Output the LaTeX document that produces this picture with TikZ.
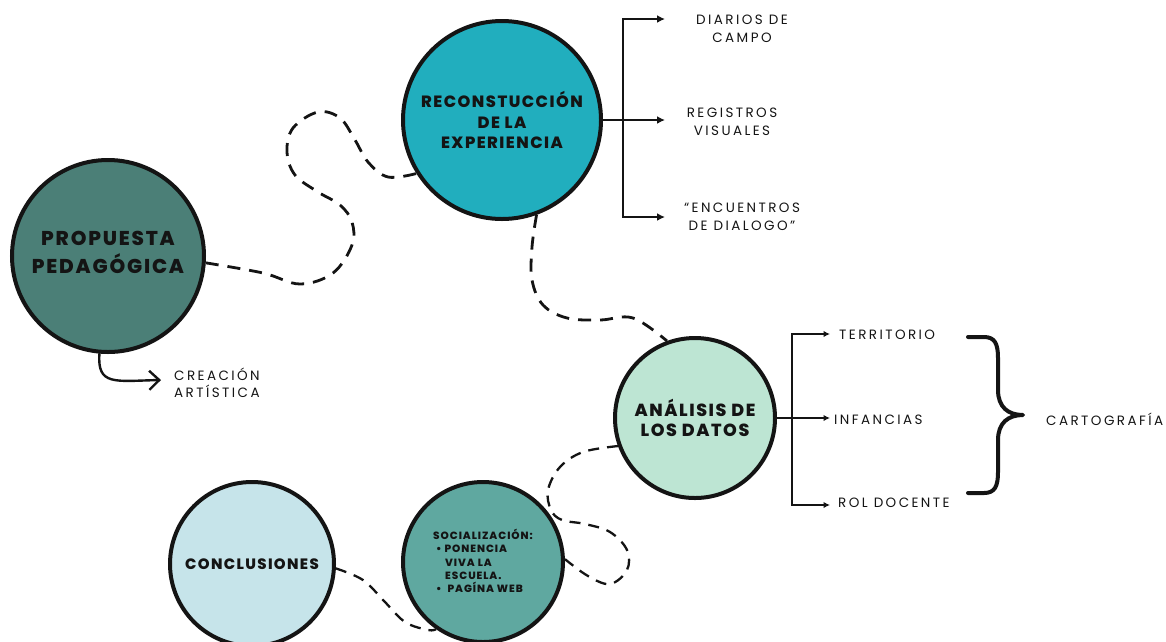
\documentclass[tikz,border=0pt]{standalone}
\usepackage{fontspec}
\usetikzlibrary{arrows.meta}
\setmainfont{Poppins}
\newfontfamily\headfont[LetterSpace=9]{Poppins ExtraBold}
\newfontfamily\tagfont[LetterSpace=18]{Poppins}
\definecolor{ink}{HTML}{141414}
\definecolor{cProp}{HTML}{4B7F77}
\definecolor{cRec}{HTML}{21AEBE}
\definecolor{cAna}{HTML}{BDE5D3}
\definecolor{cConc}{HTML}{C6E4EA}
\definecolor{cSoc}{HTML}{5FA8A0}
\begin{document}
\begin{tikzpicture}[x=1pt,y=-1pt,
  bub/.style={circle, draw=ink, line width=4pt, inner sep=0pt, align=center,
    text=ink, font=\headfont},
  tag/.style={inner sep=0pt, align=center, text=ink, font=\tagfont\fontsize{13.5}{17.5}\selectfont},
  loopdash/.style={draw=ink, line width=2.8pt, dash pattern=on 13pt off 9pt, line cap=butt},
  thindash/.style={draw=ink, line width=2.3pt, dash pattern=on 11pt off 8pt},
  branch/.style={draw=ink, line width=2pt, -{Latex[length=8pt,width=8pt]}},
  fork/.style={draw=ink, line width=1.8pt, -{Latex[length=6.5pt,width=6.5pt]}}]
\useasboundingbox (0,0) rectangle (1166,641);

% main bubbles
\node[bub, fill=cProp, minimum size=192pt] (prop) at (108,256) {};
\node[text=ink, align=center, font=\headfont\fontsize{20}{28}\selectfont] (propText) at (108,252) {PROPUESTA\\PEDAGÓGICA};
\node[bub, fill=cRec, minimum size=198pt, font=\headfont\fontsize{16.3}{20.5}\selectfont] (rec) at (502,120) {RECONSTUCCIÓN\\DE LA\\EXPERIENCIA};
\node[bub, fill=cAna, minimum size=160pt, font=\headfont\fontsize{17.5}{20}\selectfont] (ana) at (695,418) {ANÁLISIS DE\\LOS DATOS};
\node[bub, fill=cConc, minimum size=164pt, font=\headfont\fontsize{15}{18}\selectfont] (conc) at (252,564) {CONCLUSIONES};
\node[bub, fill=cSoc, minimum size=160pt] (soc) at (483,562) {};
\node[text=ink, align=left, inner sep=0pt, font=\headfont\fontsize{10.5}{13.3}\selectfont] (socText) at (483,561)
  {SOCIALIZACIÓN:\\
   \hspace*{3pt}\textbullet\ PONENCIA\\
   \hspace*{12pt}VIVA LA\\
   \hspace*{12pt}ESCUELA.\\
   \hspace*{3pt}\textbullet\ \ PAGÍNA WEB};

% outer labels
\node[tag] (diarios) at (742,29) {DIARIOS DE\\CAMPO};
\node[tag] (registros) at (732,122) {REGISTROS\\VISUALES};
\node[tag] (encuentros) at (742,217) {“ENCUENTROS\\DE DIALOGO”};
\node[tag, anchor=west] (terr) at (839,335) {TERRITORIO};
\node[tag, anchor=west] (inf) at (834,420) {INFANCIAS};
\node[tag, anchor=west] (rol) at (838,503) {ROL DOCENTE};
\node[tag, anchor=west] (carto) at (1046,419) {CARTOGRAFÍA};
\node[tag, anchor=west, align=left] (crea) at (174,383) {CREACIÓN\\ARTÍSTICA};

% branch points and arrow ends
\coordinate (rb) at (623,120);
\coordinate (r1) at (665,19);
\coordinate (r2) at (665,120);
\coordinate (r3) at (665,217);
\coordinate (ab) at (792,418);
\coordinate (a1) at (830,334);
\coordinate (a2) at (830,418);
\coordinate (a3) at (830,505);
\coordinate (creTip) at (161,380);

% fork from the reconstruction bubble
\draw[branch] (rec.east) -- (r2);
\draw[branch] (rb) |- (r1);
\draw[branch] (rb) |- (r3);

% fork from the analysis bubble
\draw[fork] (ana.east) -- (a2);
\draw[fork] (ab) |- (a1);
\draw[fork] (ab) |- (a3);

% brace gathering the three categories
\draw[ink, line width=4pt, line cap=round, line join=round]
  (968,337) -- (984,337) .. controls (995,337) and (998,344) .. (998,358)
  -- (998,390) .. controls (998,407) and (1008,415) .. (1023,415)
  .. controls (1008,415) and (998,423) .. (998,440)
  -- (998,472) .. controls (998,486) and (995,493) .. (984,493) -- (968,493);

% curved arrow to the artistic creation
\draw[ink, line width=2.4pt, line cap=round, -{Straight Barb[length=10pt,width=19pt]}] (prop.265) .. controls (97,386) and (115,381) .. (creTip);

% dashed paths between bubbles
\draw[loopdash] plot[smooth, tension=0.6] coordinates {(prop.-4) (263,273) (300,284) (333,273) (352,245) (352,222) (340,205) (318,192) (295,175) (287,152) (293,128) (318,112) (340,118) (355,140) (368,162) (388,177) (rec.212)};
\draw[loopdash] plot[smooth, tension=0.6] coordinates {(rec.-70) (532,247) (532,280) (543,305) (567,318) (600,320) (633,318) (ana.110)};
\draw[thindash] plot[smooth, tension=0.6] coordinates {(ana.200) (583,452) (560,467) (548,490) (551,510) (562,520) (585,524) (610,532) (627,550) (627,570) (610,584) (588,576) (soc.2)};
\draw[thindash] plot[smooth, tension=0.6] coordinates {(conc.-3) (363,580) (384,601) (405,622) (428,630) (soc.235)};
\end{tikzpicture}
\end{document}
